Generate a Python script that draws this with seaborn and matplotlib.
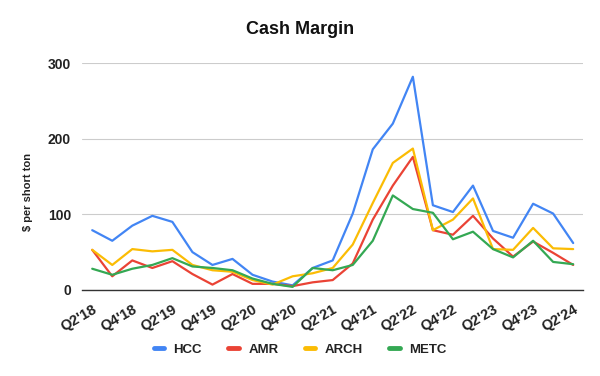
import numpy as np
import pandas as pd
import matplotlib
matplotlib.use("Agg")
import matplotlib.pyplot as plt
import seaborn as sns

# quarters Q2'18 .. Q2'24
quarters = ["Q2'18", "Q3'18", "Q4'18", "Q1'19", "Q2'19", "Q3'19", "Q4'19", "Q1'20",
            "Q2'20", "Q3'20", "Q4'20", "Q1'21", "Q2'21", "Q3'21", "Q4'21", "Q1'22",
            "Q2'22", "Q3'22", "Q4'22", "Q1'23", "Q2'23", "Q3'23", "Q4'23", "Q1'24", "Q2'24"]

hcc = [79, 65, 85, 98, 90, 50, 33, 41, 20, 11, 6, 29, 39, 101, 186, 220, 282, 112, 103, 138, 78, 69, 114, 101, 62]
amr = [53, 18, 39, 29, 38, 21, 7, 21, 8, 8, 5, 10, 13, 35, 93, 138, 176, 79, 73, 98, 68, 44, 64, 49, 33]
arch = [53, 33, 54, 51, 53, 33, 26, 24, 13, 7, 18, 22, 29, 60, 115, 168, 187, 79, 93, 121, 54, 53, 82, 55, 54]
metc = [28, 20, 28, 33, 42, 31, 29, 26, 15, 8, 4, 29, 26, 33, 65, 125, 107, 102, 67, 77, 54, 43, 65, 37, 34]

series = {"HCC": hcc, "AMR": amr, "ARCH": arch, "METC": metc}
colors = {"HCC": "#4285F4", "AMR": "#EA4335", "ARCH": "#FBBC04", "METC": "#34A853"}

rows = []
for name, vals in series.items():
    for i, v in enumerate(vals):
        rows.append({"idx": i, "quarter": quarters[i], "company": name, "value": v})
df = pd.DataFrame(rows)

sns.set_style("white")
plt.rcParams["font.family"] = ["Liberation Sans", "DejaVu Sans"]

fig = plt.figure(figsize=(6, 3.76), dpi=100)
ax = fig.add_axes([0.137, 0.229, 0.835, 0.603])

sns.lineplot(data=df, x="idx", y="value", hue="company", palette=colors,
             linewidth=1.6, ax=ax, legend=False)

ax.set_xlim(-0.5, len(quarters) - 0.5)
ax.set_ylim(0, 300)
ax.set_yticks([0, 100, 200, 300])
ax.yaxis.grid(True, color="#cccccc", linewidth=0.8)
ax.set_axisbelow(True)
for s in ["top", "right", "left"]:
    ax.spines[s].set_visible(False)
ax.spines["bottom"].set_color("#333333")
ax.spines["bottom"].set_linewidth(1.0)

ticks = list(range(0, len(quarters), 2))
ax.set_xticks(ticks)
ax.set_xticklabels([quarters[i] for i in ticks], rotation=30, ha="right",
                   rotation_mode="anchor", fontsize=10.5, fontweight="bold", color="#222222")
for lab in ax.get_yticklabels():
    lab.set_fontweight("bold")
    lab.set_fontsize(10)
    lab.set_color("#222222")
ax.tick_params(axis="y", length=0, pad=8)
ax.tick_params(axis="x", length=0, pad=9)

ax.set_xlabel("")
ax.set_ylabel("$ per short ton", fontsize=8, fontweight="bold", color="#222222")
ax.yaxis.set_label_coords(-0.098, 0.43)

fig.suptitle("Cash Margin", x=0.5, y=0.945, fontsize=13, fontweight="bold", color="#111111")

handles = [plt.Line2D([0], [0], color=colors[n], linewidth=3.5) for n in series]
leg = fig.legend(handles, list(series.keys()), loc="center", bbox_to_anchor=(0.5, 0.07),
                 ncol=4, frameon=False, handlelength=0.8, columnspacing=2.0, handletextpad=0.7,
                 prop={"weight": "bold", "size": 9.5})
for t in leg.get_texts():
    t.set_color("#222222")

fig.savefig("out.png", dpi=100)
